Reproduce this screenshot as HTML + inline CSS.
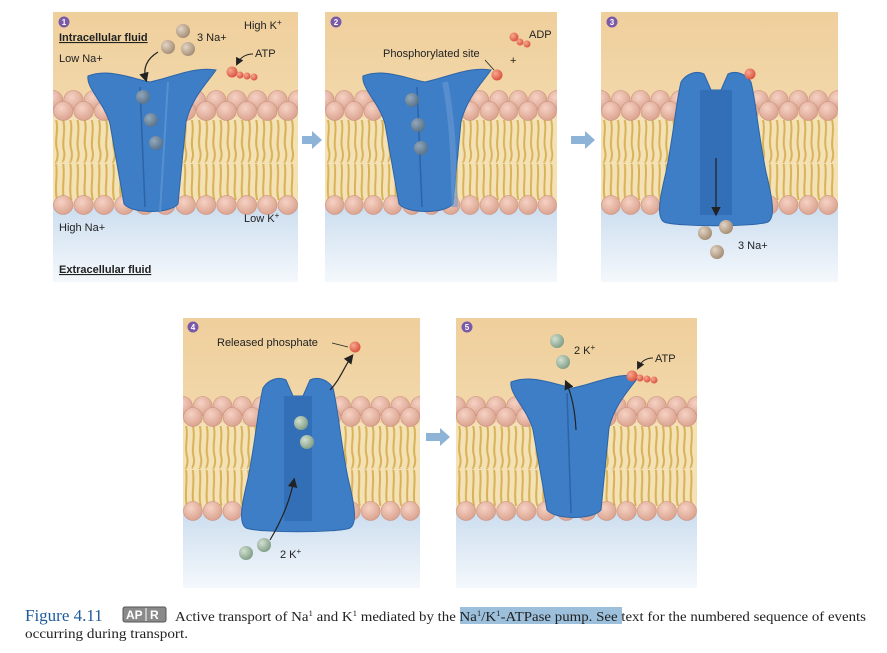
<!DOCTYPE html>
<html><head><meta charset="utf-8"><style>
html,body{margin:0;padding:0;background:#fff;width:887px;height:653px;overflow:hidden}
svg{display:block}
.t{font-family:"Liberation Sans",Arial,sans-serif;font-size:11px;fill:#222}
.b{font-weight:bold;text-decoration:underline}
.cap{font-family:"Liberation Serif",serif;font-size:13.5px;fill:#222}
</style></head><body>
<svg width="887" height="653" viewBox="0 0 887 653" xmlns="http://www.w3.org/2000/svg">
<defs>
<linearGradient id="top" x1="0" y1="0" x2="0" y2="1"><stop offset="0" stop-color="#efcf9c"/><stop offset="1" stop-color="#f5e1b9"/></linearGradient>
<linearGradient id="bot" x1="0" y1="0" x2="0" y2="1"><stop offset="0" stop-color="#cadcee"/><stop offset="1" stop-color="#f4f8fc"/></linearGradient>
<radialGradient id="head" cx="0.4" cy="0.35" r="0.7"><stop offset="0" stop-color="#f6d2c4"/><stop offset="1" stop-color="#d9a08c"/></radialGradient>
<radialGradient id="na" cx="0.35" cy="0.35" r="0.7"><stop offset="0" stop-color="#e2d4c4"/><stop offset="1" stop-color="#a38b72"/></radialGradient>
<radialGradient id="k" cx="0.35" cy="0.35" r="0.7"><stop offset="0" stop-color="#d2e0d0"/><stop offset="1" stop-color="#7f9c86"/></radialGradient>
<radialGradient id="gr" cx="0.35" cy="0.35" r="0.7"><stop offset="0" stop-color="#a9b3b8"/><stop offset="1" stop-color="#5d6f7c"/></radialGradient>
<radialGradient id="p" cx="0.35" cy="0.35" r="0.7"><stop offset="0" stop-color="#f7a890"/><stop offset="1" stop-color="#d9503c"/></radialGradient>
<pattern id="heads" x="0" y="78" width="20" height="32" patternUnits="userSpaceOnUse">
<circle cx="0" cy="10" r="9.5" fill="url(#head)" stroke="#c88d7a" stroke-width="0.6"/>
<circle cx="20" cy="10" r="9.5" fill="url(#head)" stroke="#c88d7a" stroke-width="0.6"/>
<circle cx="10" cy="21" r="9.5" fill="url(#head)" stroke="#c88d7a" stroke-width="0.6"/>
</pattern>
<pattern id="tails" x="0" y="108" width="14" height="80" patternUnits="userSpaceOnUse">
<path d="M3,0 C6,10 1,20 4,30 C6,38 2,44 3,42 M10,0 C13,12 8,22 11,32 C12,38 9,42 10,42 M3,44 C5,56 1,68 4,80 M10,44 C12,58 8,68 11,80" fill="none" stroke="#d7b256" stroke-width="2"/>
</pattern>
<pattern id="bheads" x="0" y="182" width="20" height="22" patternUnits="userSpaceOnUse">
<circle cx="10" cy="11" r="9.5" fill="url(#head)" stroke="#c88d7a" stroke-width="0.6"/>
</pattern>
<symbol id="bg" viewBox="0 0 240 270" preserveAspectRatio="none">
<rect y="190" width="240" height="80" fill="url(#bot)"/>
<rect width="240" height="195" fill="url(#top)"/>
<rect y="105" width="240" height="85" fill="#f4e2b6"/>
<rect y="108" width="240" height="80" fill="url(#tails)"/>
<rect y="78" width="240" height="32" fill="url(#heads)"/>
<rect y="182" width="240" height="22" fill="url(#bheads)"/>
</symbol>
<path id="pin" d="M-62,64 C-42,56 -20,66 0,70 C20,66 45,54 66,58 C58,70 42,85 36,110 L28,192 C20,202 -18,202 -26,192 L-40,112 C-45,92 -64,76 -62,64 Z" fill="#3d7ec6" stroke="#2c64a6" stroke-width="1"/>
<path id="pout" d="M-35,70 C-30,62 -20,58 -12,62 L-5,78 L5,78 L12,62 C20,58 30,62 35,70 C40,90 42,120 50,160 C56,185 60,205 52,210 C40,215 -40,215 -52,210 C-60,205 -56,185 -50,160 C-42,120 -40,90 -35,70 Z" fill="#3d7ec6" stroke="#2c64a6" stroke-width="1"/>
<marker id="ah" markerWidth="8" markerHeight="8" refX="6" refY="4" orient="auto"><path d="M0,0 L8,4 L0,8 Z" fill="#222"/></marker>
</defs>

<use href="#bg" x="53" y="12" width="245" height="270"/>
<use href="#bg" x="325" y="12" width="232" height="270"/>
<use href="#bg" x="601" y="12" width="237" height="270"/>
<use href="#bg" x="183" y="318" width="237" height="270"/>
<use href="#bg" x="456" y="318" width="241" height="270"/>

<g transform="translate(150,12)"><use href="#pin"/><path d="M-10,75 L-5,195" stroke="#2c64a6" stroke-width="1.5" fill="none"/><path d="M18,70 L10,200" stroke="#5590d0" stroke-width="2" fill="none"/></g>
<g transform="translate(425,12)"><use href="#pin"/><path d="M-8,75 L-3,195" stroke="#2c64a6" stroke-width="1.5" fill="none"/><path d="M20,70 C30,120 28,170 30,195" stroke="#6a9ad2" stroke-width="6" fill="none" opacity="0.6"/></g>
<g transform="translate(716,12)"><use href="#pout"/><rect x="-16" y="78" width="32" height="125" fill="#336fb6"/></g>
<g transform="translate(298,318)"><use href="#pout"/><rect x="-14" y="78" width="28" height="125" fill="#336fb6"/></g>
<g transform="translate(573,318)"><use href="#pin"/><path d="M-6,75 L-2,195" stroke="#2c64a6" stroke-width="1.5" fill="none"/></g>

<path d="M302,136 h10 v-5 l10,9 l-10,9 v-5 h-10 z" fill="#8db3d6"/>
<path d="M571,136 h14 v-5 l10,9 l-10,9 v-5 h-14 z" fill="#8db3d6"/>
<path d="M426,433 h14 v-5 l10,9 l-10,9 v-5 h-14 z" fill="#8db3d6"/>

<g fill="#7a5aa8"><circle cx="64" cy="22" r="5.5"/><circle cx="336" cy="22" r="5.5"/><circle cx="612" cy="22" r="5.5"/><circle cx="193" cy="327" r="5.5"/><circle cx="467" cy="327" r="5.5"/></g>
<g font-family="Liberation Sans,sans-serif" font-size="8" font-weight="bold" fill="#fff" text-anchor="middle">
<text x="64" y="25">1</text><text x="336" y="25">2</text><text x="612" y="25">3</text><text x="193" y="330">4</text><text x="467" y="330">5</text></g>

<text class="t b" x="59" y="41">Intracellular fluid</text>
<text class="t" x="59" y="62">Low Na+</text>
<text class="t" x="244" y="29">High K<tspan font-size="8" dy="-4">+</tspan></text>
<text class="t" x="197" y="41">3 Na+</text>
<text class="t" x="255" y="57">ATP</text>
<text class="t" x="244" y="222">Low K<tspan font-size="8" dy="-4">+</tspan></text>
<text class="t" x="59" y="231">High Na+</text>
<text class="t b" x="59" y="273">Extracellular fluid</text>
<circle cx="183" cy="31" r="7" fill="url(#na)"/><circle cx="168" cy="47" r="7" fill="url(#na)"/><circle cx="188" cy="49" r="7" fill="url(#na)"/>
<path d="M158,52 C145,60 143,70 146,80" fill="none" stroke="#222" stroke-width="1.2" marker-end="url(#ah)"/>
<circle cx="143" cy="97" r="7" fill="url(#gr)" opacity="0.8"/><circle cx="151" cy="120" r="7" fill="url(#gr)" opacity="0.8"/><circle cx="156" cy="143" r="7" fill="url(#gr)" opacity="0.8"/>
<circle cx="232" cy="72" r="5.5" fill="url(#p)"/><circle cx="240" cy="75" r="3.5" fill="url(#p)"/><circle cx="247" cy="76" r="3.5" fill="url(#p)"/><circle cx="254" cy="77" r="3.5" fill="url(#p)"/>
<path d="M253,54 C245,54 240,58 237,64" fill="none" stroke="#222" stroke-width="1" marker-end="url(#ah)"/>

<text class="t" x="529" y="38">ADP</text>
<circle cx="514" cy="37" r="4.5" fill="url(#p)"/><circle cx="520" cy="42" r="3.5" fill="url(#p)"/><circle cx="527" cy="44" r="3.5" fill="url(#p)"/>
<text class="t" x="383" y="57">Phosphorylated site</text>
<text class="t" x="510" y="64">+</text>
<path d="M485,60 L494,70" stroke="#222" stroke-width="0.8"/>
<circle cx="497" cy="75" r="5.5" fill="url(#p)"/>
<circle cx="412" cy="100" r="7" fill="url(#gr)" opacity="0.8"/><circle cx="418" cy="125" r="7" fill="url(#gr)" opacity="0.8"/><circle cx="421" cy="148" r="7" fill="url(#gr)" opacity="0.8"/>

<circle cx="750" cy="74" r="5.5" fill="url(#p)"/>
<path d="M716,158 L716,214" stroke="#222" stroke-width="1.2" marker-end="url(#ah)"/>
<circle cx="705" cy="233" r="7" fill="url(#na)"/><circle cx="726" cy="227" r="7" fill="url(#na)"/><circle cx="717" cy="252" r="7" fill="url(#na)"/>
<text class="t" x="738" y="249">3 Na+</text>

<text class="t" x="217" y="346">Released phosphate</text>
<path d="M332,343 L348,347" stroke="#222" stroke-width="0.8"/>
<circle cx="355" cy="347" r="5.5" fill="url(#p)"/>
<path d="M330,390 C340,380 345,365 352,356" fill="none" stroke="#222" stroke-width="1.2" marker-end="url(#ah)"/>
<circle cx="301" cy="423" r="7" fill="url(#k)"/><circle cx="307" cy="442" r="7" fill="url(#k)"/>
<circle cx="246" cy="553" r="7" fill="url(#k)"/><circle cx="264" cy="545" r="7" fill="url(#k)"/>
<text class="t" x="280" y="558">2 K<tspan font-size="8" dy="-4">+</tspan></text>
<path d="M270,540 C282,520 290,500 294,480" fill="none" stroke="#222" stroke-width="1.2" marker-end="url(#ah)"/>

<circle cx="557" cy="341" r="7" fill="url(#k)"/><circle cx="563" cy="362" r="7" fill="url(#k)"/>
<text class="t" x="574" y="354">2 K<tspan font-size="8" dy="-4">+</tspan></text>
<path d="M576,430 C575,410 572,395 566,382" fill="none" stroke="#222" stroke-width="1.2" marker-end="url(#ah)"/>
<text class="t" x="655" y="362">ATP</text>
<path d="M653,358 C645,358 641,362 638,368" fill="none" stroke="#222" stroke-width="1" marker-end="url(#ah)"/>
<circle cx="632" cy="376" r="5.5" fill="url(#p)"/><circle cx="640" cy="378" r="3.5" fill="url(#p)"/><circle cx="647" cy="379" r="3.5" fill="url(#p)"/><circle cx="654" cy="380" r="3.5" fill="url(#p)"/>

<rect x="460" y="607" width="162" height="17" fill="#9cc0dc"/>
<text x="25" y="621" font-family="Liberation Serif,serif" font-size="17" fill="#1e5a9c">Figure 4.11</text>
<rect x="123" y="607" width="43" height="15" rx="2" fill="#8a8a8a" stroke="#555"/>
<text x="126" y="619" font-family="Liberation Sans,sans-serif" font-size="12" font-weight="bold" fill="#fff">AP</text>
<line x1="146" y1="608" x2="146" y2="621" stroke="#fff"/>
<text x="150" y="619" font-family="Liberation Sans,sans-serif" font-size="12" font-weight="bold" fill="#fff">R</text>
<text class="cap" x="175" y="621" textLength="691" lengthAdjust="spacingAndGlyphs">Active transport of Na<tspan font-size="8" dy="-5">1</tspan><tspan dy="5"> and K</tspan><tspan font-size="8" dy="-5">1</tspan><tspan dy="5"> mediated by the Na</tspan><tspan font-size="8" dy="-5">1</tspan><tspan dy="5">/K</tspan><tspan font-size="8" dy="-5">1</tspan><tspan dy="5">-ATPase pump. See text for the numbered sequence of events</tspan></text>
<text class="cap" x="25" y="638" textLength="163" lengthAdjust="spacingAndGlyphs">occurring during transport.</text>
</svg>
</body></html>
